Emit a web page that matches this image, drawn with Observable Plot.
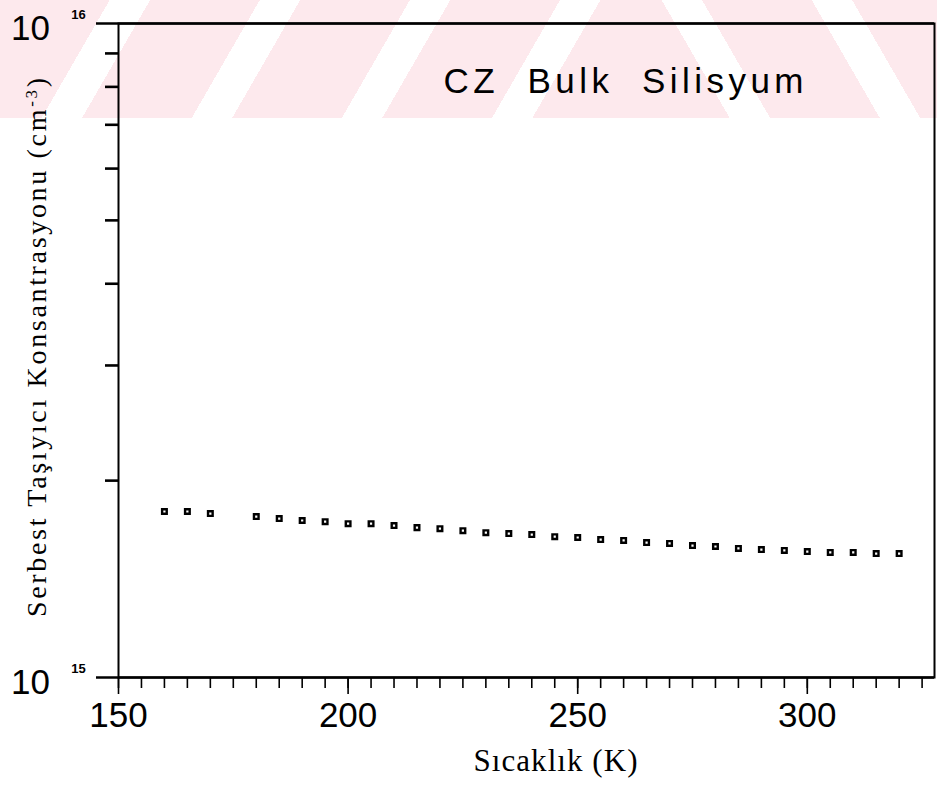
<!DOCTYPE html>
<html>
<head>
<meta charset="utf-8">
<script src="https://cdn.jsdelivr.net/npm/d3@7"></script>
<script src="https://cdn.jsdelivr.net/npm/@observablehq/plot@0.6"></script>
<style>
  body { margin: 0; background: #fff; }
  #wrap { position: relative; width: 937px; height: 791px; overflow: hidden; background: #fff; }
  .wm { position: absolute; top: 0; height: 118px; }
  #wmL { left: 0; width: 620px; background: repeating-linear-gradient(120deg, #fde9ed 0 95px, #fff 95px 130px); }
  #wmR { left: 620px; width: 317px; background: repeating-linear-gradient(60deg, #fde9ed 0 95px, #fff 95px 130px); }
  #chart { position: absolute; left: 0; top: 0; }
</style>
</head>
<body>
<div id="wrap">
  <div class="wm" id="wmL"></div>
  <div class="wm" id="wmR"></div>
  <div id="chart"></div>
</div>
<script>
// ---- data ----
const temperatures = [160, 165, 170, 180, 185, 190, 195, 200, 205, 210, 215, 220, 225, 230, 235, 240,
                      245, 250, 255, 260, 265, 270, 275, 280, 285, 290, 295, 300, 305, 310, 315, 320];
const concentrations = [1.794e15, 1.794e15, 1.781e15, 1.762e15, 1.750e15, 1.738e15, 1.731e15, 1.719e15,
                        1.719e15, 1.707e15, 1.695e15, 1.689e15, 1.677e15, 1.665e15, 1.660e15, 1.654e15,
                        1.642e15, 1.637e15, 1.625e15, 1.620e15, 1.608e15, 1.603e15, 1.591e15, 1.586e15,
                        1.575e15, 1.569e15, 1.564e15, 1.558e15, 1.553e15, 1.553e15, 1.547e15, 1.547e15];
const xMajorTicks = [150, 200, 250, 300];
const xMinorTicks = [150, 155, 160, 165, 170, 175, 180, 185, 190, 195, 200, 205, 210, 215, 220, 225,
                     230, 235, 240, 245, 250, 255, 260, 265, 270, 275, 280, 285, 290, 295, 300, 305,
                     310, 315, 320, 325];
const yDecadeTicks = [1e15, 1e16];
const yDecadeBase = ["10", "10"];
const yDecadeExp = ["15", "16"];
const yMinorTicks = [2e15, 3e15, 4e15, 5e15, 6e15, 7e15, 8e15, 9e15];
const titleText = "CZ  Bulk  Silisyum";
const xLabelText = "Sıcaklık (K)";
const yLabelMain = "Serbest Taşıyıcı Konsantrasyonu (cm";
const yLabelSup = "-3";
const yLabelEnd = ")";

const points = temperatures.map((t, i) => ({t, c: concentrations[i]}));
const decades = yDecadeTicks.map((v, i) => ({v, base: yDecadeBase[i], exp: yDecadeExp[i]}));

const plot = Plot.plot({
  width: 937,
  height: 791,
  marginLeft: 118,
  marginRight: 3,
  marginTop: 23,
  marginBottom: 114,
  style: {background: "transparent", fontFamily: "Liberation Sans, Arial, sans-serif", color: "black"},
  x: {domain: [150, 327.7]},
  y: {type: "log", domain: [1e15, 1e16]},
  marks: [
    Plot.frame({strokeWidth: 2}),
    Plot.ruleY(yDecadeTicks, {insetLeft: -22, strokeWidth: 2.6}),
    Plot.axisX({ticks: xMinorTicks, tickSize: 11, tickFormat: () => "", strokeWidth: 1.6, label: null}),
    Plot.axisX({ticks: xMajorTicks, tickSize: 17, tickPadding: 8, fontSize: 35, strokeWidth: 1.6, label: null, tickFormat: d => String(d)}),
    Plot.axisY({ticks: yMinorTicks, tickSize: 13, tickFormat: () => "", strokeWidth: 2.6, label: null}),
    Plot.text(decades, {y: "v", text: "base", frameAnchor: "left", dx: -88, dy: 5, fontSize: 35, textAnchor: "middle"}),
    Plot.text(decades, {y: "v", text: "exp", frameAnchor: "left", dx: -40, dy: -8.5, fontSize: 13, fontWeight: "bold", textAnchor: "middle"}),
    Plot.dot(points, {x: "t", y: "c", symbol: "square", r: 2.6, stroke: "black", strokeWidth: 2.4, fill: "white"}),
    Plot.text([titleText], {text: d => d, frameAnchor: "top-left", dx: 325, dy: 45, fontSize: 35, textAnchor: "start"}),
    Plot.text([xLabelText], {text: d => d, frameAnchor: "bottom", dx: 29, dy: 93, fontSize: 31, fontFamily: "Liberation Serif, Times New Roman, serif", textAnchor: "middle"}),
    Plot.text([yLabelMain], {text: d => d, frameAnchor: "left", dx: -81, dy: -3, rotate: -90, fontSize: 28, fontFamily: "Liberation Serif, Times New Roman, serif", textAnchor: "middle"})
  ]
});

const svg = d3.select(plot);
const findText = s => svg.selectAll("text").filter(function () { return this.textContent === s; });
findText(titleText)
  .style("white-space", "pre")
  .attr("textLength", 360).attr("lengthAdjust", "spacing");
findText(xLabelText)
  .attr("textLength", 164).attr("lengthAdjust", "spacing");
const yl = findText(yLabelMain);
yl.text(null);
yl.append("tspan").text(yLabelMain);
yl.append("tspan").attr("font-size", 17).attr("dy", "-0.55em").text(yLabelSup);
yl.append("tspan").attr("font-size", 28).attr("dy", "0.33em").text(yLabelEnd);
yl.attr("textLength", 539).attr("lengthAdjust", "spacing");

document.getElementById("chart").appendChild(plot);
</script>
</body>
</html>
